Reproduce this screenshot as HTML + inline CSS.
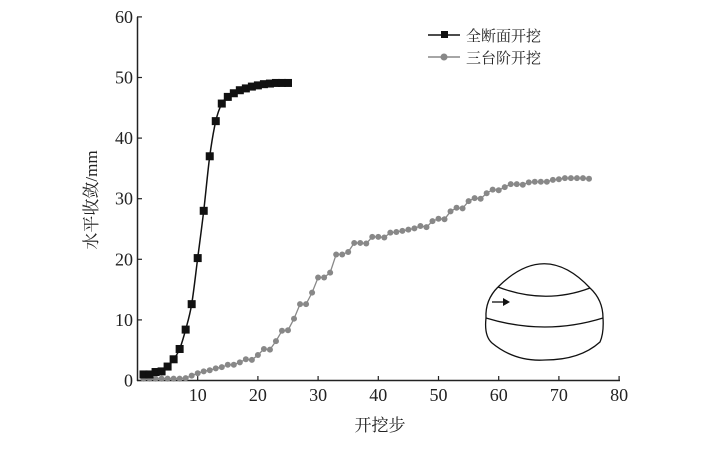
<!DOCTYPE html>
<html><head><meta charset="utf-8"><style>
html,body{margin:0;padding:0;background:#fff;}
svg{display:block;font-family:"Liberation Serif","Noto Serif CJK SC",serif;}
</style></head><body>
<svg id="s" width="712" height="450" viewBox="0 0 712 450" xmlns="http://www.w3.org/2000/svg">
<g stroke="#222" stroke-width="1.5" fill="none">
<line x1="137.5" y1="17" x2="137.5" y2="381"/>
<line x1="137" y1="380.5" x2="620" y2="380.5"/>
</g>
<g id="ticks" stroke="#222" stroke-width="1.2"></g>
<g id="lab" font-size="18" fill="#222"></g>
<text x="380" y="431" font-size="17" text-anchor="middle" font-family="'Noto Serif CJK SC',serif" fill="#222">开挖步</text>
<text transform="translate(97,200) rotate(-90)" font-size="17" text-anchor="middle" fill="#222"><tspan font-family="'Noto Serif CJK SC',serif">水平收敛</tspan>/mm</text>
<!-- legend -->
<line x1="428" y1="35" x2="460" y2="35" stroke="#111" stroke-width="1.5"/>
<rect x="441" y="31" width="7" height="7" fill="#111"/>
<text x="466" y="41" font-size="15" font-family="'Noto Serif CJK SC',serif" fill="#222">全断面开挖</text>
<line x1="428" y1="57" x2="460" y2="57" stroke="#888" stroke-width="1.5"/>
<circle cx="444" cy="57" r="3.5" fill="#888"/>
<text x="466" y="63" font-size="15" font-family="'Noto Serif CJK SC',serif" fill="#222">三台阶开挖</text>
<!-- tunnel sketch -->
<g stroke="#111" stroke-width="1.3" fill="none">
<path d="M498,287 Q545,240 590,288"/>
<path d="M498,287 Q545,305 590,288"/>
<path d="M498,287 Q485,300 486,318"/>
<path d="M590,288 Q603,300 603,318"/>
<path d="M486,318 Q545,336 603,318"/>
<path d="M486,318 Q484,336 492,343 Q515,362 545,360 Q580,360 600,342 Q604,333 603,318"/>
<line x1="492" y1="302" x2="503" y2="302"/>
</g>
<polygon points="503,298 510,302 503,306" fill="#111"/>
<g id="g2"></g><g id="g1"></g>
</svg>
<script>
var X=v=>137.5+v*6.02, Y=v=>380.5-v*6.06;
var ns="http://www.w3.org/2000/svg";
function el(t,a,p){var e=document.createElementNS(ns,t);for(var k in a)e.setAttribute(k,a[k]);document.getElementById(p).appendChild(e);return e;}
for(var i=0;i<=8;i++){var x=X(i*10);if(i>0){el('line',{x1:x,y1:380,x2:x,y2:376},'ticks');var t=el('text',{x:x,y:401,'text-anchor':'middle'},'lab');t.textContent=i*10;}}
for(var j=0;j<=6;j++){var y=Y(j*10);el('line',{x1:137,y1:y,x2:142,y2:y},'ticks');var t=el('text',{x:133,y:y+6,'text-anchor':'end'},'lab');t.textContent=j*10;}
var b=[1,1,1.4,1.5,2.3,3.5,5.2,8.4,12.6,20.2,28,37,42.8,45.7,46.8,47.4,47.9,48.2,48.5,48.7,48.9,49,49.1,49.1,49.1];
var g=[0.3,0.3,0.3,0.3,0.3,0.3,0.3,0.4,0.8,1.2,1.5,1.7,2,2.2,2.6,2.6,3,3.5,3.4,4.2,5.2,5.1,6.5,8.2,8.3,10.2,12.6,12.6,14.5,17,17,17.8,20.8,20.8,21.2,22.7,22.7,22.6,23.7,23.7,23.6,24.4,24.5,24.7,24.9,25.1,25.5,25.3,26.3,26.7,26.6,27.9,28.5,28.4,29.6,30.1,30,30.9,31.5,31.4,31.9,32.4,32.4,32.3,32.7,32.8,32.8,32.8,33.1,33.2,33.4,33.4,33.4,33.4,33.3];
el('polyline',{points:g.map((v,i)=>X(i+1)+','+Y(v)).join(' '),fill:'none',stroke:'#888','stroke-width':1.3},'g2');
g.forEach((v,i)=>el('circle',{cx:X(i+1),cy:Y(v),r:3,fill:'#888'},'g2'));
var pts=b.map((v,i)=>[X(i+1),Y(v)]);
var d='M'+pts[0];for(var i=1;i<pts.length;i++){var p0=pts[i-1],p1=pts[i],pm=pts[i-2]||p0,pn=pts[i+1]||p1;d+=' C'+(p0[0]+(p1[0]-pm[0])/6)+','+(p0[1]+(p1[1]-pm[1])/6)+' '+(p1[0]-(pn[0]-p0[0])/6)+','+(p1[1]-(pn[1]-p0[1])/6)+' '+p1;}
el('path',{d:d,fill:'none',stroke:'#111','stroke-width':1.5},'g1');
pts.forEach(p=>el('rect',{x:p[0]-4,y:p[1]-4,width:8,height:8,fill:'#111'},'g1'));
</script>
</body></html>
